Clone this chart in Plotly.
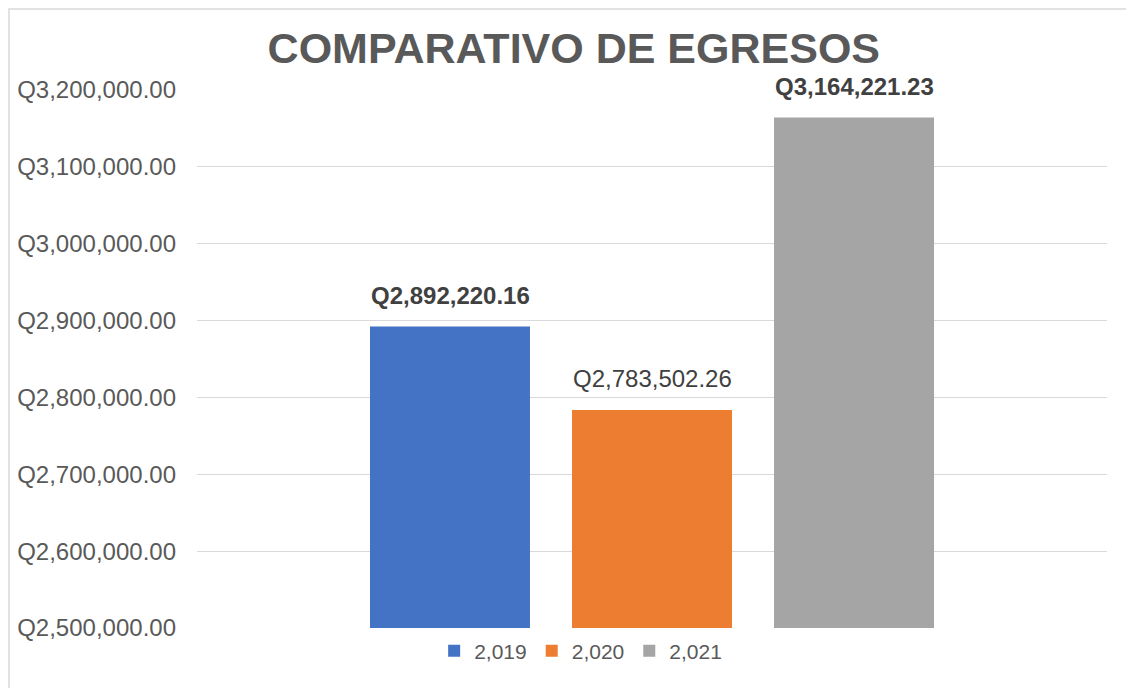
import plotly.graph_objects as go

years = ["2,019", "2,020", "2,021"]
values = [2892220.16, 2783502.26, 3164221.23]
colors = ["#4472C4", "#ED7D31", "#A5A5A5"]
bold = [True, False, True]
y_ticks = [2500000, 2600000, 2700000, 2800000, 2900000, 3000000, 3100000, 3200000]
y_tick_text = ["Q{:,.2f}".format(t) for t in y_ticks]

FONT = "Liberation Sans, Arial"

fig = go.Figure()
annotations = []
for i, (name, v, c, b) in enumerate(zip(years, values, colors, bold)):
    fig.add_trace(go.Bar(
        x=[""], y=[v], name=name, marker=dict(color=c, line=dict(width=0)),
        hoverinfo="skip",
    ))
    label = "Q{:,.2f}".format(v)
    if b:
        label = "<b>" + label + "</b>"
    annotations.append(dict(
        x=0, y=v, xref="x", yref="y", text=label, showarrow=False,
        xshift=(i - 1) * 202, yshift=16, yanchor="bottom",
        font=dict(family=FONT, size=24, color="#404040"),
    ))

fig.update_layout(
    width=1126, height=680,
    margin=dict(l=189, r=27, t=82, b=60, autoexpand=False),
    paper_bgcolor="white", plot_bgcolor="white",
    barmode="group", bargap=0.334, bargroupgap=0.208,
    title=dict(text="<b>COMPARATIVO DE EGRESOS</b>", x=0.5025, xanchor="center",
               y=1 - 40 / 680, yanchor="middle",
               font=dict(family=FONT, size=43, color="#595959")),
    font=dict(family=FONT, color="#595959"),
    showlegend=True,
    legend=dict(orientation="h", x=0.4216, xanchor="center", y=-0.005, yanchor="top",
                font=dict(family=FONT, size=21, color="#595959"), itemwidth=30,
                traceorder="normal"),
    xaxis=dict(showticklabels=False, showgrid=False, showline=False, zeroline=False,
               automargin=False),
    yaxis=dict(range=[2500000, 3200000], tickvals=y_ticks, ticktext=y_tick_text,
               tickfont=dict(family=FONT, size=24, color="#595959"),
               showgrid=True, gridcolor="#D9D9D9", gridwidth=1, automargin=False,
               zeroline=False, showline=False, ticks="", ticklabelstandoff=20),
    annotations=annotations,
    shapes=[dict(type="rect", xref="paper", yref="paper",
                 x0=-0.2066, x1=1.05, y0=-0.2, y1=1.1506,
                 line=dict(color="#D9D9D9", width=1.5), fillcolor="rgba(0,0,0,0)",
                 layer="below")],
)

fig.write_html("out.html")
